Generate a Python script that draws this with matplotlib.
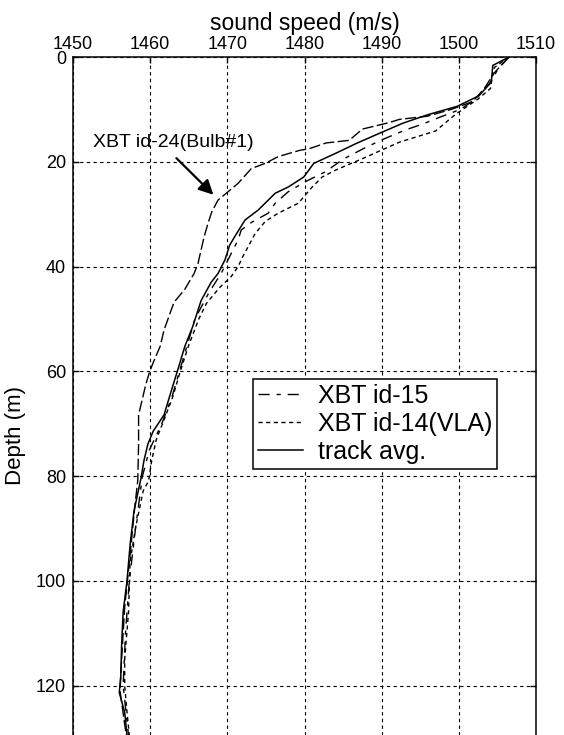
import numpy as np
import matplotlib
matplotlib.use('Agg')
import matplotlib.pyplot as plt

plt.rcParams['font.family'] = ['Liberation Sans', 'DejaVu Sans']

# sound speed profiles (depth in m, speed in m/s)
avg_depth = [0, 1.6, 4.8, 7.4, 9.4, 11.0, 12.6, 14.5, 16.5, 18.4, 20.3, 22.9, 24.8, 26.0,
             29.2, 31.1, 33.7, 35.9, 38.7, 41.3, 43.0, 46.5, 51.5, 55.2, 59.6, 63.9, 68.3,
             71.4, 73.9, 77.0, 80.5, 86.7, 93.1, 100, 105.9, 112.3, 118, 121.3, 125.1, 129.5]
avg_speed = [1506.5, 1504.4, 1504.2, 1502.6, 1499.8, 1496.0, 1492.8, 1489.8, 1486.7, 1484.0,
             1481.2, 1479.9, 1477.9, 1476.2, 1474.0, 1472.3, 1471.2, 1470.3, 1469.7, 1468.8,
             1467.9, 1466.6, 1465.5, 1464.5, 1463.6, 1462.7, 1461.8, 1460.4, 1459.7, 1459.2,
             1458.8, 1457.9, 1457.4, 1457.0, 1456.5, 1456.3, 1456.2, 1456.0, 1456.7, 1457.0]

id15_depth = [0, 2, 5, 8, 10, 11.5, 12.8, 13.9, 15.5, 17.2, 19.5, 21.9, 23.8, 25.7, 27.9,
              29.8, 31.5, 33, 34.9, 37.5, 41.3, 45, 50, 55, 60, 65, 70, 75, 80, 90, 100,
              110, 120, 129.5]
id15_speed = [1506.5, 1505.2, 1504.0, 1502.2, 1500.2, 1497.5, 1495.3, 1493.1, 1490.5, 1488.0,
              1485.0, 1482.7, 1480.1, 1477.9, 1476.2, 1475.3, 1473.2, 1471.8, 1471.4, 1470.5,
              1469.2, 1467.6, 1465.8, 1464.8, 1463.8, 1462.8, 1461.5, 1459.9, 1459.0, 1458.1,
              1457.3, 1456.8, 1456.5, 1457.2]

id14_depth = [0, 2, 4, 6, 8, 9.5, 10.9, 12.5, 14.1, 16.25, 19.4, 21.6, 22.9, 24.8, 27.9,
              29.8, 31.4, 33.7, 36.2, 38.1, 40, 41.9, 44, 47, 50, 55, 60, 65, 70, 73, 77,
              80.9, 82.8, 89.9, 96.3, 105.9, 114.9, 120, 125, 129.5]
id14_speed = [1506.5, 1504.6, 1504.3, 1504.1, 1502.5, 1501.0, 1499.6, 1498.3, 1497.0, 1492.3,
              1487.5, 1484.0, 1482.3, 1481.0, 1479.2, 1476.6, 1474.9, 1473.6, 1472.7, 1472.0,
              1471.4, 1470.5, 1469.0, 1467.3, 1466.3, 1465.0, 1463.9, 1462.9, 1461.6, 1460.8,
              1460.2, 1459.8, 1459.1, 1458.1, 1457.4, 1457.2, 1456.7, 1456.7, 1457.0, 1457.3]

id24_depth = [0, 3, 6, 8.5, 10, 11.3, 11.9, 12.5, 13.75, 15.9, 16.4, 17.5, 17.8, 19, 20.3,
              21.3, 24.1, 27.3, 29.5, 31.7, 34.3, 36.8, 39.4, 41.3, 44.3, 46.8, 48.4, 52.1,
              55.2, 58.3, 60.2, 62.7, 65.2, 68.3, 73.9, 80.7, 86, 95, 105, 115, 121, 129.5]
id24_speed = [1506.5, 1504.6, 1503.3, 1501.8, 1499.0, 1495.9, 1492.3, 1491.0, 1487.5, 1485.8,
              1482.8, 1480.6, 1479.4, 1476.6, 1474.9, 1473.1, 1471.4, 1468.8, 1468.0, 1467.5,
              1467.0, 1466.6, 1466.2, 1465.7, 1464.5, 1463.1, 1462.7, 1461.8, 1461.3, 1460.4,
              1459.9, 1459.4, 1459.0, 1458.5, 1458.5, 1458.4, 1458.0, 1457.4, 1456.7, 1456.3,
              1456.1, 1456.9]

x_ticks = [1450, 1460, 1470, 1480, 1490, 1500, 1510]
y_ticks = [0, 20, 40, 60, 80, 100, 120]

fig = plt.figure(figsize=(5.64, 7.35), dpi=100)
ax = fig.add_axes([0.1294, 0.0, 0.821, 0.9224])

ax.plot(id24_speed, id24_depth, color='k', lw=1.0, dashes=(8, 2.5), label='_nolegend_')
ax.plot(id15_speed, id15_depth, color='k', lw=1.0, dashes=(8, 5, 3, 5), label='XBT id-15')
ax.plot(id14_speed, id14_depth, color='k', lw=1.0, dashes=(3, 2.5), label='XBT id-14(VLA)')
ax.plot(avg_speed, avg_depth, color='k', lw=1.1, label='track avg.')

ax.set_xlim(1450, 1510)
ax.set_ylim(129.4, 0)
ax.set_xticks(x_ticks)
ax.set_yticks(y_ticks)

ax.xaxis.tick_top()
ax.xaxis.set_label_position('top')
ax.tick_params(direction='in', length=4, width=1, top=True, bottom=False,
               left=True, right=True, labelsize=13, colors='k')
ax.tick_params(axis='x', pad=3)
ax.tick_params(axis='y', pad=5)
ax.spines['bottom'].set_visible(False)
for s in ['top', 'left', 'right']:
    ax.spines[s].set_linewidth(1.1)

ax.grid(True, color='k', linestyle=(0, (3, 3)), linewidth=0.8)

ax.set_xlabel('sound speed (m/s)', fontsize=16.5, labelpad=4)
ax.set_ylabel('Depth (m)', fontsize=16)
ax.yaxis.set_label_coords(-0.102, 0.4425)

# label + arrow for the bulb profile
ax.text(1452.6, 16.3, 'XBT id-24(Bulb#1)', fontsize=14, va='center', ha='left')
ax.annotate('', xy=(1468.2, 26.3), xytext=(1463.4, 19.3),
            arrowprops=dict(arrowstyle='-|>', color='k', lw=1.6, mutation_scale=22,
                            shrinkA=0, shrinkB=0))

leg = ax.legend(loc='upper left', bbox_to_anchor=(0.389, 0.525), borderaxespad=0,
                fontsize=18, frameon=True, fancybox=False, framealpha=1,
                edgecolor='k', handlelength=1.8, handletextpad=0.6,
                borderpad=0.2, labelspacing=0.15)
leg.get_frame().set_linewidth(1.1)

fig.savefig('out.png', dpi=100)
